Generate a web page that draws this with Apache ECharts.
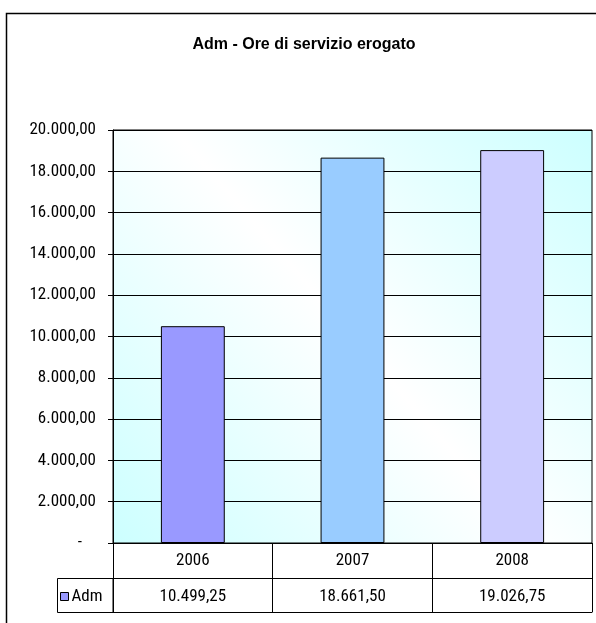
<!DOCTYPE html>
<html><head><meta charset="utf-8">
<script src="https://cdn.jsdelivr.net/npm/echarts@6/dist/echarts.min.js"></script>
<style>html,body{margin:0;padding:0;background:#fff}#c{width:596px;height:623px}</style>
</head><body><div id="c"></div>
<script>
var years = ['2006', '2007', '2008'];
var seriesName = 'Adm';
var admValues = [10499.25, 18661.50, 19026.75];
var barColors = ['#9999FF', '#99CCFF', '#CCCCFF'];
var yTicks = {min: 0, max: 20000, interval: 2000};
var titleText = 'Adm - Ore di servizio erogato';

function fmtIt(v) {
  if (v === 0) return '-';
  var parts = v.toFixed(2).split('.');
  var ip = parts[0].replace(/\B(?=(\d{3})+(?!\d))/g, '.');
  return ip + ',' + parts[1];
}
var FONT = '"Roboto Condensed", "Liberation Sans", Arial, sans-serif';
var FS = 17;
var chart = echarts.init(document.getElementById('c'), null, {renderer: 'canvas'});
var option = {
  animation: false,
  backgroundColor: '#fff',
  title: {
    text: titleText, left: 304, top: 37, textAlign: 'center', padding: 0,
    textStyle: {fontFamily: '"Liberation Sans", Arial, sans-serif', fontWeight: 'bold', fontSize: 16, color: '#000'}
  },
  legend: {
    data: [seriesName], left: 60, top: 588, itemWidth: 8, itemHeight: 8, itemGap: 2,
    icon: 'rect', padding: 0,
    itemStyle: {borderColor: '#000', borderWidth: 1},
    textStyle: {fontFamily: FONT, fontSize: FS, color: '#000', padding: [0, 0, 0, -2]}
  },
  grid: {
    left: 113, top: 130, right: 4, bottom: 80, show: true,
    borderColor: '#000', borderWidth: 1,
    backgroundColor: new echarts.graphic.LinearGradient(0, 1, 1, 0, [
      {offset: 0, color: '#CCFFFF'}, {offset: 0.5, color: '#FFFFFF'}, {offset: 1, color: '#CCFFFF'}
    ])
  },
  xAxis: [
    {type: 'category', data: years, position: 'bottom',
     axisLine: {lineStyle: {color: '#000', width: 1}},
     axisTick: {show: true, length: 69, lineStyle: {color: '#000', width: 1}},
     axisLabel: {margin: 9, color: '#000', fontFamily: FONT, fontSize: FS}},
    {type: 'category', data: years, position: 'bottom', offset: 35,
     axisLine: {show: true, lineStyle: {color: '#000', width: 1}},
     axisTick: {show: false},
     axisLabel: {margin: 10, color: '#000', fontFamily: FONT, fontSize: FS,
       formatter: function (v, i) { return fmtIt(admValues[i]); }}},
    {type: 'category', data: years, position: 'bottom', offset: 69,
     axisLine: {show: true, lineStyle: {color: '#000', width: 1}},
     axisTick: {show: false}, axisLabel: {show: false}}
  ],
  yAxis: {
    type: 'value', min: yTicks.min, max: yTicks.max, interval: yTicks.interval,
    axisLine: {show: true, lineStyle: {color: '#000', width: 1}},
    axisTick: {show: true, length: 5, lineStyle: {color: '#000'}},
    splitLine: {show: true, lineStyle: {color: '#000', width: 1}},
    axisLabel: {margin: 17, color: '#000', fontFamily: FONT, fontSize: FS,
      formatter: function (v) { return v === 0 ? '{d|-}' : fmtIt(v); },
      rich: {d: {padding: [0, 14, 0, 0], fontFamily: FONT, fontSize: FS, color: '#000'}}}
  },
  series: [{
    name: seriesName, type: 'bar', xAxisIndex: 0, barWidth: '40%',
    itemStyle: {color: barColors[0], borderColor: '#000', borderWidth: 1},
    data: admValues.map(function (v, i) { return {value: v, itemStyle: {color: barColors[i]}}; })
  }],
  graphic: [
    {type: 'rect', shape: {x: 6.5, y: 13.5, width: 620, height: 640}, style: {fill: null, stroke: '#000', lineWidth: 1.5}, silent: true, z: 100},
    {type: 'rect', shape: {x: 57.5, y: 578.5, width: 55.5, height: 34}, style: {fill: null, stroke: '#000', lineWidth: 1}, silent: true, z: 100}
  ]
};
chart.setOption(option);
</script></body></html>
